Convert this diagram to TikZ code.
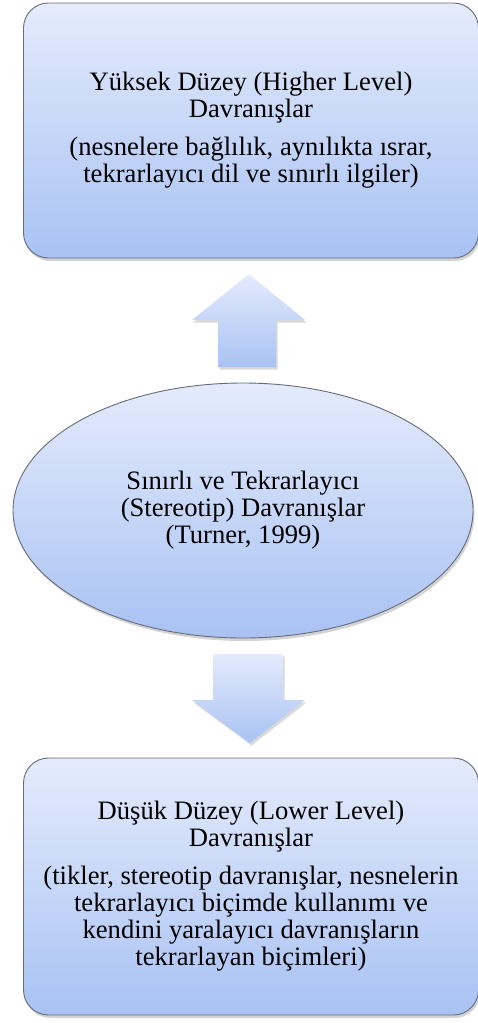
\documentclass[tikz,border=0pt]{standalone}
\usepackage{fontspec}
\setmainfont{Liberation Serif}
\usetikzlibrary{shapes.geometric,shadows}

\definecolor{boxtop}{HTML}{E4EBFC}
\definecolor{boxbot}{HTML}{A9C2F3}
\definecolor{boxline}{HTML}{666B78}

\tikzset{
  blob/.style={draw=boxline, line width=0.9pt, top color=boxtop, bottom color=boxbot,
    drop shadow={shadow xshift=1.5pt, shadow yshift=-3pt, opacity=0.35},
    font=\fontsize{26.6}{27}\selectfont, align=center},
  levelbox/.style={blob, rectangle, rounded corners=25pt, minimum width=455pt},
  bigarrow/.style={top color=boxtop, bottom color=boxbot,
    drop shadow={shadow xshift=1.5pt, shadow yshift=-2.5pt, opacity=0.3}}
}

\begin{document}
\begin{tikzpicture}[x=1pt,y=-1pt]
    \useasboundingbox (0,0) rectangle (477,1023);
    % the three levels
    \node[levelbox, minimum height=255pt] (high) at (251,130.5)
        {Yüksek Düzey (Higher Level)\\Davranışlar\\[11pt]
         (nesnelere bağlılık, aynılıkta ısrar,\\tekrarlayıcı dil ve sınırlı ilgiler)};
    \node[blob, ellipse, minimum width=460pt, minimum height=255pt] (core) at (243,510.5)
        {Sınırlı ve Tekrarlayıcı\\(Stereotip) Davranışlar\\(Turner, 1999)};
    \node[levelbox, minimum height=257pt] (low) at (251,886.5)
        {Düşük Düzey (Lower Level)\\Davranışlar\\[11pt]
         (tikler, stereotip davranışlar, nesnelerin\\tekrarlayıcı biçimde kullanımı ve\\
          kendini yaralayıcı davranışların\\tekrarlayan biçimleri)};
    % block arrows
    \shade[bigarrow] (218,367) -- (218,320) -- (192,320) -- (249,274)
        -- (305,320) -- (276,320) -- (276,367) -- cycle;
    \shade[bigarrow] (213,654) -- (283,654) -- (283,700) -- (305,700)
        -- (250,743) -- (192,700) -- (213,700) -- cycle;
\end{tikzpicture}
\end{document}
